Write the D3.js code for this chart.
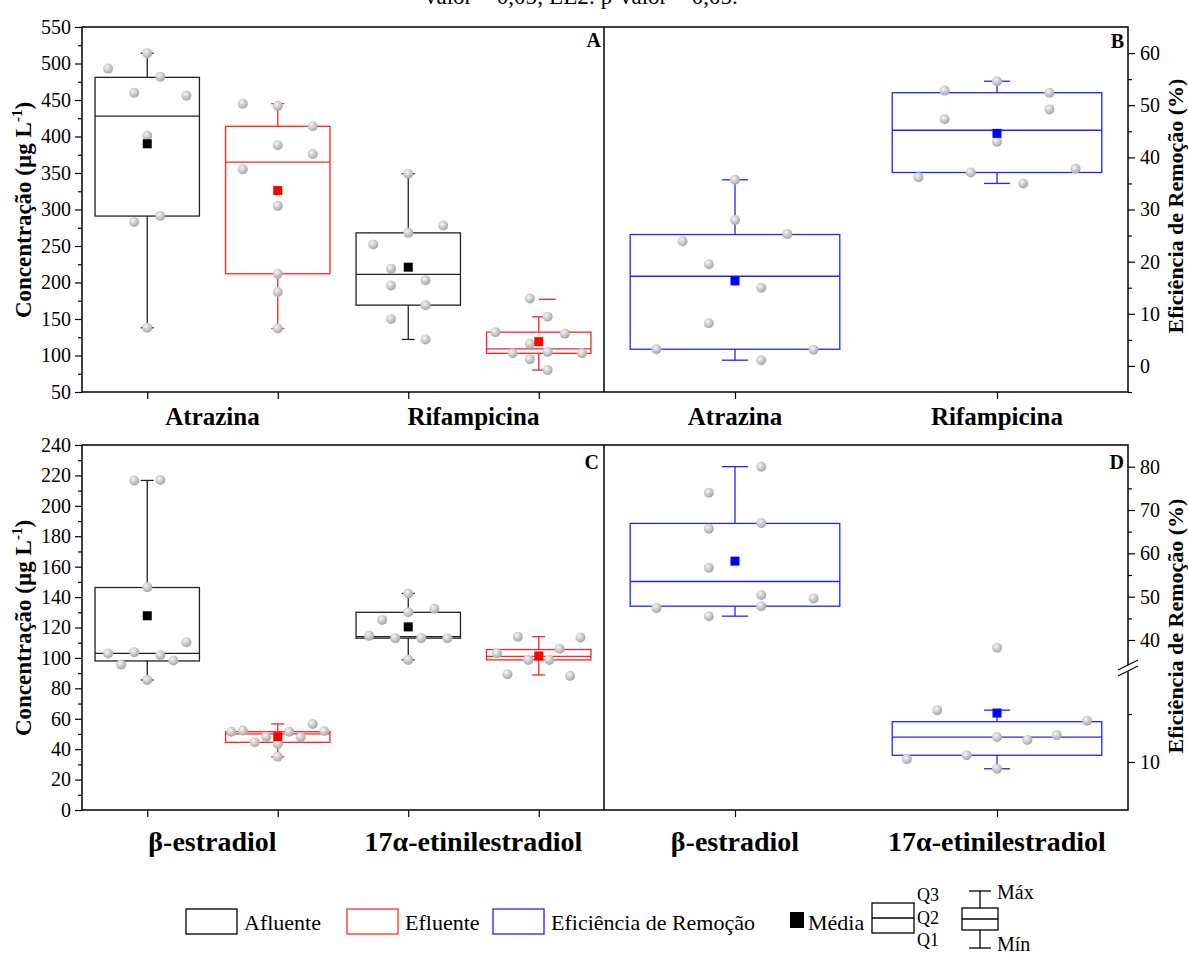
<!DOCTYPE html>
<html>
<head>
<meta charset="utf-8">
<script src="https://cdn.jsdelivr.net/npm/d3@7"></script>
<style>
body{margin:0;background:#fff;}
svg{display:block;}
</style>
</head>
<body>
<svg id="chart" width="1188" height="956"></svg>
<script>
// ---------- data ----------
var topCompounds = ["Atrazina", "Rifampicina"];
var bottomCompounds = ["β-estradiol", "17α-etinilestradiol"];
var legendNames = ["Afluente", "Efluente", "Eficiência de Remoção", "Média"];

// box stats per box: [min, q1, median, q3, max]
// concentration panels: afluente, efluente, afluente, efluente
var concAStats = [[138,291,428,481,514],[137,212,365,414,445],[122,169,211,268,349],[80,103,109,132,153]];
var concAMeans = [390, 326, 221, 119];
var concAPoints = [
  [493,460,514,482,456,401,283,291,138],
  [445,442,414,388,376,355,305,212,187,137],
  [252,349,268,278,219,196,203,169,150,122],
  [178,153,132,130,116,103,105,103,95,80]
];
// horizontal spread of each point, as a fraction of half the box width
var concAJitter = [
  [-0.75,-0.25,0,0.25,0.75,0,-0.25,0.25,0],
  [-0.67,0,0.67,0,0.67,-0.67,0,0,0,0],
  [-0.67,0,0,0.67,-0.33,-0.33,0.33,0.33,-0.33,0.33],
  [-0.17,0.17,-0.83,0.5,-0.17,-0.5,0.17,0.83,-0.17,0.17]
];
var concAMaxMark = [null, null, null, 177];

var effBStats = [[1.1,3.2,17.2,25.2,35.7],[35,37.1,45.2,52.4,54.6]];
var effBMeans = [16.3, 44.6];
var effBPoints = [
  [35.7,28,25.3,23.9,19.5,15,8.2,3.2,3.1,1.1],
  [54.6,52.8,52.4,49.2,47.3,43,36.2,37.1,37.8,35]
];
var effBJitter = [
  [0,0,0.5,-0.5,-0.25,0.25,-0.25,-0.75,0.75,0.25],
  [0,-0.5,0.5,0.5,-0.5,0,-0.75,-0.25,0.75,0.25]
];

var concCStats = [[85.5,98,103,146.3,216.7],[35,44.5,50,51.5,56.6],[98.7,113,114,130,142.4],[88.8,98.7,101,105.5,114]];
var concCMeans = [127.7, 48.2, 120.4, 101.3];
var concCPoints = [
  [216.7,217,146.5,102.9,103.8,101.8,110.3,95.6,98.3,85.5],
  [51.5,52.2,44.5,48.2,43.4,35,51.5,47.8,56.6,51.9],
  [142.4,130,132.3,125,114.5,113,113,113,98.7],
  [114,113.4,103,106,98.7,98.7,89.3,88.2]
];
var concCJitter = [
  [-0.25,0.25,0,-0.75,-0.25,0.25,0.75,-0.5,0.5,0],
  [-0.89,-0.67,-0.44,-0.22,0,0,0.22,0.44,0.67,0.89],
  [0,0,0.5,-0.5,-0.75,-0.25,0.25,0.75,0],
  [-0.4,0.8,-0.8,0.4,-0.2,0.2,-0.6,0.6]
];

var effDStats = [[45.5,47.8,53.5,66.9,80],[9.3,10.7,12.6,14.2,15.4]];
var effDMeans = [58.2, 15.1];
var effDPoints = [
  [80,74,65.7,67,56.7,50.4,49.6,47.8,47.4,45.5],
  [15.4,38.2,14.3,12.6,12.3,12.8,10.3,10.7,9.3]
];
var effDJitter = [
  [0.25,-0.25,-0.25,0.25,-0.25,0.25,0.75,0.25,-0.75,-0.25],
  [-0.57,0,0.86,0,0.29,0.57,-0.86,-0.29,0]
];

// axis ticks
var ticksA = d3.range(50, 551, 50), minorA = d3.range(75, 550, 50);
var ticksB = d3.range(0, 61, 10), minorB = d3.range(-5, 60, 10);
var ticksC = d3.range(0, 241, 20), minorC = d3.range(10, 240, 20);
var ticksD = [10, 40, 50, 60, 70, 80], minorD = [15, 45, 55, 65, 75];

// ---------- drawing ----------
var FONT = '"Liberation Serif","Times New Roman",serif';
var svg = d3.select("#chart").attr("font-family", FONT);
svg.append("rect").attr("width", 1188).attr("height", 956).attr("fill", "#fff");

var grad = svg.append("defs").append("radialGradient").attr("id", "ball")
  .attr("cx", "38%").attr("cy", "35%").attr("r", "65%");
grad.append("stop").attr("offset", "0%").attr("stop-color", "#f6f6f6");
grad.append("stop").attr("offset", "55%").attr("stop-color", "#c9c9c9");
grad.append("stop").attr("offset", "100%").attr("stop-color", "#a8a8a8");

var colAfl = "#222", colEfl = "#ff2222", colEff = "#2424ff";
var L = 82, M = 604, R = 1128;
var rowTop = [27, 392], rowBot = [445, 810];

var yA = d3.scaleLinear().domain([50, 550]).range([rowTop[1], rowTop[0]]);
var yB = d3.scaleLinear().domain([-5, 65]).range([rowTop[1], rowTop[0]]);
var yC = d3.scaleLinear().domain([0, 240]).range([rowBot[1], rowBot[0]]);
var yD = d3.scaleLinear().domain([5, 20, 34, 85]).range([rowBot[1], 666, 666, rowBot[0]]);

var xLeft = d3.scaleLinear().domain([0, 4]).range([L, M]);
var xRight = d3.scaleLinear().domain([0, 2]).range([M, R]);

function drawBoxes(xs, y, stats, means, pts, jit, colors, meanColors, maxMark) {
  var bw = (xs(1) - xs(0)) * 0.8, cap = bw / 8;
  var g = svg.append("g");
  stats.forEach(function(s, i) {
    var cx = xs(i + 0.5);
    var b = g.append("g").attr("stroke", colors[i]).attr("stroke-width", 1.3).attr("fill", "none");
    b.append("line").attr("x1", cx).attr("x2", cx).attr("y1", y(s[3])).attr("y2", y(s[4]));
    b.append("line").attr("x1", cx).attr("x2", cx).attr("y1", y(s[1])).attr("y2", y(s[0]));
    [s[0], s[4]].forEach(function(v) {
      b.append("line").attr("x1", cx - cap / 2).attr("x2", cx + cap / 2).attr("y1", y(v)).attr("y2", y(v));
    });
    b.append("rect").attr("x", cx - bw / 2).attr("y", y(s[3]))
      .attr("width", bw).attr("height", y(s[1]) - y(s[3]));
    b.append("line").attr("x1", cx - bw / 2).attr("x2", cx + bw / 2).attr("y1", y(s[2])).attr("y2", y(s[2]));
    if (maxMark && maxMark[i] != null) {
      b.append("line").attr("x1", cx).attr("x2", cx + cap * 1.3)
        .attr("y1", y(maxMark[i])).attr("y2", y(maxMark[i]));
    }
  });
  pts.forEach(function(arr, i) {
    var cx = xs(i + 0.5);
    g.selectAll(null).data(arr).enter().append("circle")
      .attr("cx", function(d, j) { return cx + jit[i][j] * bw / 2; })
      .attr("cy", function(d) { return y(d); })
      .attr("r", 5).attr("fill", "url(#ball)");
  });
  g.selectAll(null).data(means).enter().append("rect")
    .attr("x", function(d, i) { return xs(i + 0.5) - 4.5; })
    .attr("y", function(d) { return y(d) - 4.5; })
    .attr("width", 9).attr("height", 9)
    .attr("fill", function(d, i) { return meanColors[i]; });
}

function styleAxis(a) {
  a.select(".domain").remove();
  a.attr("font-family", FONT).attr("font-size", 20);
  a.selectAll("line").attr("stroke", "#000").attr("stroke-width", 1.2);
  a.selectAll("text").attr("fill", "#000");
}

function leftAxis(y, majors, minors) {
  svg.append("g").attr("transform", "translate(" + L + ",0)")
    .call(d3.axisLeft(y).tickValues(majors).tickSize(7).tickPadding(4)).call(styleAxis);
  svg.append("g").attr("transform", "translate(" + L + ",0)")
    .call(d3.axisLeft(y).tickValues(minors).tickSize(4).tickFormat("")).call(styleAxis);
}
function rightAxis(y, majors, minors) {
  svg.append("g").attr("transform", "translate(" + R + ",0)")
    .call(d3.axisRight(y).tickValues(majors).tickSize(7).tickPadding(5)).call(styleAxis);
  svg.append("g").attr("transform", "translate(" + R + ",0)")
    .call(d3.axisRight(y).tickValues(minors).tickSize(4).tickFormat("")).call(styleAxis);
}
function bottomTicks(xs, n, yb) {
  svg.append("g").attr("transform", "translate(0," + yb + ")")
    .call(d3.axisBottom(xs).tickValues(d3.range(n).map(function(i) { return i + 0.5; }))
      .tickSize(7).tickFormat("")).call(styleAxis);
}

// boxes
var lrCol = [colAfl, colEfl, colAfl, colEfl];
var lrMean = ["#000", "#ff0000", "#000", "#ff0000"];
drawBoxes(xLeft, yA, concAStats, concAMeans, concAPoints, concAJitter, lrCol, lrMean, concAMaxMark);
drawBoxes(xRight, yB, effBStats, effBMeans, effBPoints, effBJitter, [colEff, colEff], ["#0000ff", "#0000ff"]);
drawBoxes(xLeft, yC, concCStats, concCMeans, concCPoints, concCJitter, lrCol, lrMean);
drawBoxes(xRight, yD, effDStats, effDMeans, effDPoints, effDJitter, [colEff, colEff], ["#0000ff", "#0000ff"]);

// frames
[rowTop, rowBot].forEach(function(r) {
  svg.append("rect").attr("x", L).attr("y", r[0]).attr("width", R - L).attr("height", r[1] - r[0])
    .attr("fill", "none").attr("stroke", "#000").attr("stroke-width", 1.5);
  svg.append("line").attr("x1", M).attr("x2", M).attr("y1", r[0]).attr("y2", r[1])
    .attr("stroke", "#000").attr("stroke-width", 1.5);
});

leftAxis(yA, ticksA, minorA);
leftAxis(yC, ticksC, minorC);
rightAxis(yB, ticksB, minorB);
rightAxis(yD, ticksD, minorD);
bottomTicks(xLeft, 4, rowTop[1]);
bottomTicks(xRight, 2, rowTop[1]);
bottomTicks(xLeft, 4, rowBot[1]);
bottomTicks(xRight, 2, rowBot[1]);

// axis break on D
var brk = svg.append("g");
brk.append("polygon").attr("points", [[R - 9, 670], [R + 9, 661], [R + 9, 667], [R - 9, 676]].join(" "))
  .attr("fill", "#fff");
[0, 6].forEach(function(o) {
  brk.append("line").attr("x1", R - 10).attr("y1", 670 + o).attr("x2", R + 10).attr("y2", 660 + o)
    .attr("stroke", "#000").attr("stroke-width", 1.2);
});

// category labels
function catLabels(names, xs, positions, yText, size) {
  svg.selectAll(null).data(names).enter().append("text")
    .attr("x", function(d, i) { return xs(positions[i]); })
    .attr("y", yText).attr("text-anchor", "middle")
    .attr("font-size", size).attr("font-weight", "bold").text(function(d) { return d; });
}
catLabels(topCompounds, xLeft, [1, 3], 425, 25);
catLabels(topCompounds, xRight, [0.5, 1.5], 425, 25);
catLabels(bottomCompounds, xLeft, [1, 3], 851, 28);
catLabels(bottomCompounds, xRight, [0.5, 1.5], 851, 28);

// panel letters
[["A", 601, 47], ["B", 1124, 48], ["C", 599, 469], ["D", 1124, 469]].forEach(function(p) {
  svg.append("text").attr("x", p[1]).attr("y", p[2]).attr("text-anchor", "end")
    .attr("font-size", 20).attr("font-weight", "bold").text(p[0]);
});

// axis titles
function leftTitle(cy) {
  var t = svg.append("text").attr("transform", "translate(31," + cy + ") rotate(-90)")
    .attr("text-anchor", "middle").attr("font-size", 23).attr("font-weight", "bold");
  t.append("tspan").text("Concentração (µg L");
  t.append("tspan").attr("font-size", 15).attr("dy", -9).text("-1");
  t.append("tspan").attr("dy", 9).text(")");
}
function rightTitle(cy) {
  svg.append("text").attr("transform", "translate(1183," + cy + ") rotate(-90)")
    .attr("text-anchor", "middle").attr("font-size", 22).attr("font-weight", "bold")
    .text("Eficiência de Remoção (%)");
}
leftTitle(210); leftTitle(628);
rightTitle(206); rightTitle(626);

// clipped caption line at the very top
svg.append("text").attr("x", 425).attr("y", 4).attr("font-size", 23)
  .text("valor = 0,05; EE2: p-valor = 0,05.");

// legend
var lg = svg.append("g").attr("font-size", 22);
var swatches = [[186, "#000"], [347, "#ff3030"], [493, "#2020ff"]];
swatches.forEach(function(s, i) {
  lg.append("rect").attr("x", s[0]).attr("y", 909).attr("width", 51).attr("height", 25)
    .attr("fill", "none").attr("stroke", s[1]).attr("stroke-width", 1.3);
  lg.append("text").attr("x", s[0] + 58).attr("y", 930).text(legendNames[i]);
});
lg.append("rect").attr("x", 790).attr("y", 912).attr("width", 14).attr("height", 16).attr("fill", "#000");
lg.append("text").attr("x", 808).attr("y", 930).text(legendNames[3]);

var q = lg.append("g").attr("stroke", "#000").attr("stroke-width", 1.3).attr("fill", "none");
q.append("rect").attr("x", 872).attr("y", 903).attr("width", 42).attr("height", 30);
q.append("line").attr("x1", 872).attr("x2", 914).attr("y1", 918).attr("y2", 918);
[["Q3", 901], ["Q2", 924], ["Q1", 946]].forEach(function(t) {
  lg.append("text").attr("x", 917).attr("y", t[1]).attr("font-size", 18).text(t[0]);
});
q.append("rect").attr("x", 962).attr("y", 908).attr("width", 36).attr("height", 22);
q.append("line").attr("x1", 962).attr("x2", 998).attr("y1", 919).attr("y2", 919);
q.append("line").attr("x1", 980).attr("x2", 980).attr("y1", 891).attr("y2", 908);
q.append("line").attr("x1", 980).attr("x2", 980).attr("y1", 930).attr("y2", 948);
q.append("line").attr("x1", 969).attr("x2", 991).attr("y1", 891).attr("y2", 891);
q.append("line").attr("x1", 969).attr("x2", 991).attr("y1", 948).attr("y2", 948);
lg.append("text").attr("x", 997).attr("y", 899).attr("font-size", 20).text("Máx");
lg.append("text").attr("x", 997).attr("y", 951).attr("font-size", 20).text("Mín");
</script>
</body>
</html>
